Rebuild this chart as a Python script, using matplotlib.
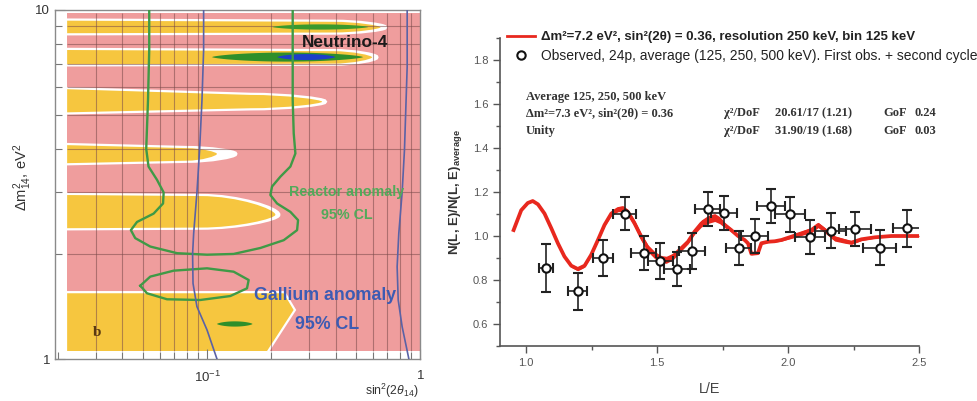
import numpy as np
import matplotlib
matplotlib.use("Agg")
import matplotlib.pyplot as plt
from matplotlib.path import Path
from matplotlib.patches import PathPatch, Polygon
from matplotlib.lines import Line2D
from matplotlib.ticker import FixedLocator, FixedFormatter, NullFormatter

plt.rcParams['font.family'] = ['Liberation Sans', 'DejaVu Sans']
plt.rcParams['mathtext.fontset'] = 'custom'
plt.rcParams['mathtext.rm'] = 'Liberation Sans'
plt.rcParams['mathtext.it'] = 'Liberation Sans:italic'
plt.rcParams['mathtext.bf'] = 'Liberation Sans:bold'

# ---------------- left panel data (sin^2(2theta), dm^2) ----------------
pink_x = (0.022, 1.0)
pink_y = (1.054, 9.78)

# yellow excluded lobes: left edge, top/bottom, taper start, tip
lobe_top = [9.32, 7.68, 5.93, 4.10, 2.95]
lobe_bot = [8.58, 6.99, 5.09, 3.64, 2.37]
lobe_top2 = [9.25, 7.62, 5.71, 4.02, 2.93]
lobe_bot2 = [8.62, 7.02, 5.23, 3.70, 2.38]
lobe_xflat = [0.39, 0.39, 0.159, 0.080, 0.093]
lobe_xtip = [0.649, 0.593, 0.3455, 0.111, 0.2086]
lobe_ytip = [8.92, 7.32, 5.46, 3.87, 2.59]
white_xtip = [0.68, 0.62, 0.355, 0.135, 0.215]

# bottom yellow region (polygon corners)
base_x = [0.022, 0.228, 0.254, 0.1906, 0.022]
base_y = [1.543, 1.543, 1.382, 1.054, 1.054]

# Neutrino-4 allowed islands: x range, centre dm^2, half height (decades)
n4_x1 = [0.105, 0.202, 0.213, 0.111]
n4_x2 = [0.539, 0.570, 0.399, 0.163]
n4_yc = [7.33, 8.94, 7.33, 1.26]
n4_hh = [0.013, 0.0075, 0.0085, 0.0075]
n4_col = ['#2f8f2a', '#3a9a2c', '#1d3fc8', '#2f8f2a']

# Reactor anomaly 95% CL contour
reactor_x = [0.0534, 0.0534, 0.0527, 0.0517, 0.0530, 0.0581, 0.0624, 0.0620, 0.0560, 0.0468,
             0.0438, 0.0459, 0.0540, 0.0721, 0.0997, 0.1329, 0.1773, 0.2283, 0.2637, 0.2665,
             0.2453, 0.2124, 0.1976, 0.2012, 0.2202, 0.2453, 0.2589, 0.2543, 0.2515, 0.2515, 0.2515]
reactor_y = [10.0, 7.68, 5.52, 4.00, 3.56, 3.26, 3.00, 2.79, 2.61, 2.47,
             2.34, 2.22, 2.10, 2.01, 1.99, 2.00, 2.08, 2.19, 2.34, 2.50,
             2.64, 2.79, 2.95, 3.12, 3.33, 3.56, 3.88, 4.43, 5.52, 7.68, 10.0]
loop_x = [0.0485, 0.0540, 0.0695, 0.0997, 0.1329, 0.1563, 0.1535, 0.1282, 0.0927, 0.0647, 0.0521, 0.0485]
loop_y = [1.622, 1.722, 1.791, 1.819, 1.779, 1.684, 1.594, 1.515, 1.476, 1.483, 1.543, 1.622]

# Gallium anomaly 95% CL lines
gal1_x = [0.0961, 0.0961, 0.0944, 0.0920, 0.0894, 0.0863, 0.0853, 0.0857, 0.0894, 0.0997, 0.1110]
gal1_y = [10.0, 7.68, 5.52, 3.97, 3.00, 2.29, 2.00, 1.647, 1.413, 1.211, 1.0]
gal2_x = [0.866, 0.866, 0.841, 0.820, 0.791, 0.777, 0.786, 0.820, 0.882]
gal2_y = [10.0, 6.88, 3.97, 3.00, 2.29, 1.838, 1.476, 1.238, 1.0]

grid_x = [0.02, 0.03, 0.04, 0.05, 0.06, 0.07, 0.08, 0.09, 0.2, 0.3, 0.4, 0.5, 0.6, 0.7, 0.8, 0.9]
grid_y = [2, 3, 4, 5, 6, 7, 8, 9]
left_xticks = [0.1, 1.0]
left_xlabels = [r'$10^{-1}$', '1']
left_yticks = [1, 10]
left_ylabels = ['1', '10']

# ---------------- right panel data ----------------
model_x = [0.952, 0.981, 1.006, 1.025, 1.045, 1.070, 1.096, 1.121, 1.146, 1.172,
           1.197, 1.223, 1.248, 1.274, 1.299, 1.325, 1.350, 1.369, 1.389, 1.414,
           1.439, 1.465, 1.490, 1.516, 1.535, 1.561, 1.592, 1.618, 1.643, 1.669,
           1.694, 1.720, 1.739, 1.758, 1.783, 1.809, 1.834, 1.847, 1.860, 1.885,
           1.898, 1.924, 1.949, 1.975, 2.013, 2.051, 2.089, 2.115, 2.140, 2.178,
           2.217, 2.242, 2.280, 2.331, 2.395, 2.459, 2.500]
model_y = [1.027, 1.117, 1.150, 1.159, 1.144, 1.102, 1.035, 0.967, 0.907, 0.865,
           0.850, 0.865, 0.914, 0.982, 1.050, 1.102, 1.122, 1.125, 1.107, 1.057,
           0.997, 0.944, 0.914, 0.895, 0.892, 0.907, 0.944, 0.974, 1.020, 1.057,
           1.075, 1.084, 1.072, 1.050, 1.027, 1.000, 0.982, 0.967, 0.919, 0.922,
           0.967, 0.974, 0.976, 0.982, 0.997, 1.012, 1.027, 1.050, 1.027, 0.989,
           0.977, 0.970, 0.985, 0.994, 1.000, 1.000, 1.000]
model_spread = [0.003, 0.003, 0.003, 0.003, 0.003, 0.003, 0.004, 0.005, 0.006, 0.007,
                0.008, 0.007, 0.006, 0.005, 0.006, 0.010, 0.012, 0.013, 0.014, 0.015,
                0.016, 0.016, 0.016, 0.016, 0.016, 0.015, 0.012, 0.010, 0.012, 0.016,
                0.018, 0.018, 0.016, 0.012, 0.008, 0.006, 0.005, 0.004, 0.004, 0.004,
                0.004, 0.004, 0.004, 0.005, 0.008, 0.010, 0.012, 0.012, 0.012, 0.012,
                0.010, 0.008, 0.006, 0.004, 0.003, 0.003, 0.003]

obs_x = [1.076, 1.197, 1.293, 1.376, 1.448, 1.512, 1.576, 1.633, 1.694, 1.754,
         1.811, 1.873, 1.936, 2.006, 2.085, 2.163, 2.255, 2.350, 2.456]
obs_y = [0.854, 0.749, 0.902, 1.102, 0.922, 0.887, 0.850, 0.932, 1.122, 1.105,
         0.944, 1.000, 1.135, 1.099, 0.997, 1.024, 1.030, 0.947, 1.035]
obs_yerr = [0.108, 0.085, 0.082, 0.075, 0.077, 0.081, 0.077, 0.083, 0.078, 0.079,
            0.078, 0.079, 0.077, 0.079, 0.077, 0.079, 0.077, 0.081, 0.083]
obs_xerr = [0.028, 0.036, 0.037, 0.043, 0.048, 0.048, 0.048, 0.048, 0.048, 0.050,
            0.049, 0.051, 0.053, 0.057, 0.057, 0.059, 0.060, 0.064, 0.054]

fit_rows = ['Average 125, 250, 500 keV', 'Δm²=7.3 eV², sin²(2θ) = 0.36', 'Unity']
fit_chi = ['', '20.61/17 (1.21)', '31.90/19 (1.68)']
fit_gof = ['', '0.24', '0.03']

PINK = '#ef9d9d'
YELLOW = '#f6c63f'
RED = '#e8281e'


def lerp_log(a, b, f):
    return a * (b / a) ** f


def lobe_path(x0, top, bot, xf, top2, bot2, xt, yt):
    cx = lerp_log(xf, xt, 0.5)
    verts = [(x0, top), (xf, top2),
             (cx, top2), (xt, lerp_log(yt, top2, 0.3)), (xt, yt),
             (xt, lerp_log(yt, bot2, 0.3)), (cx, bot2), (xf, bot2),
             (x0, bot), (x0, top)]
    codes = [Path.MOVETO, Path.LINETO, Path.CURVE4, Path.CURVE4, Path.CURVE4,
             Path.CURVE4, Path.CURVE4, Path.CURVE4, Path.LINETO, Path.CLOSEPOLY]
    return Path(verts, codes)


def lens(x1, x2, yc, hh, n=80):
    t = np.linspace(-1, 1, n)
    lx = np.log10(x1) + (t + 1) / 2 * (np.log10(x2) - np.log10(x1))
    h = hh * (1 - t ** 2) ** 0.7
    xs = np.concatenate([lx, lx[::-1]])
    ys = np.concatenate([np.log10(yc) + h, (np.log10(yc) - h)[::-1]])
    return 10 ** xs, 10 ** ys


fig = plt.figure(figsize=(9.78, 4.01), dpi=100)

# ================= left panel =================
ax1 = fig.add_axes([55 / 978, 42 / 401, 365.5 / 978, 349 / 401])
ax1.set_xscale('log')
ax1.set_yscale('log')
ax1.set_xlim(0.0193, 1.0)
ax1.set_ylim(1, 10)

ax1.add_patch(Polygon([(pink_x[0], pink_y[0]), (pink_x[1], pink_y[0]),
                       (pink_x[1], pink_y[1]), (pink_x[0], pink_y[1])],
                      closed=True, fc=PINK, ec='none', zorder=1))

for i in range(len(lobe_top)):
    halo = lobe_path(pink_x[0], lobe_top[i], lobe_bot[i], lobe_xflat[i], lobe_top2[i],
                     lobe_bot2[i], white_xtip[i], lobe_ytip[i])
    ax1.add_patch(PathPatch(halo, fc='white', ec='white', lw=3.2, zorder=1.2))
for i in range(len(lobe_top)):
    yel = lobe_path(pink_x[0], lobe_top[i], lobe_bot[i], lobe_xflat[i], lobe_top2[i],
                    lobe_bot2[i], lobe_xtip[i], lobe_ytip[i])
    ax1.add_patch(PathPatch(yel, fc=YELLOW, ec='none', zorder=1.4))

base = list(zip(base_x, base_y))
ax1.add_patch(Polygon(base, closed=True, fc='white', ec='white', lw=3.2, zorder=1.2))
ax1.add_patch(Polygon(base, closed=True, fc=YELLOW, ec='none', zorder=1.4))
# white margin under the coloured area
ax1.add_patch(Polygon([(0.0193, 1.0), (1.0, 1.0), (1.0, pink_y[0]), (0.0193, pink_y[0])],
                      closed=True, fc='white', ec='none', zorder=1.5))

ax1.vlines(grid_x[1:], pink_y[0], pink_y[1], colors='#7a4a4a', lw=0.8, alpha=0.55, zorder=1.6)
ax1.hlines(grid_y, pink_x[0], pink_x[1], colors='#7a4a4a', lw=0.8, alpha=0.55, zorder=1.6)

for x1, x2, yc, hh, c in zip(n4_x1, n4_x2, n4_yc, n4_hh, n4_col):
    lx, ly = lens(x1, x2, yc, hh)
    ax1.fill(lx, ly, color=c, lw=0, zorder=2)

ax1.plot(reactor_x, reactor_y, color='#3f9a46', lw=1.7, zorder=3, solid_joinstyle='round')
ax1.plot(loop_x, loop_y, color='#3f9a46', lw=1.7, zorder=3, solid_joinstyle='round')
ax1.plot(gal1_x, gal1_y, color='#5a62a6', lw=1.2, zorder=3)
ax1.plot(gal2_x, gal2_y, color='#5a62a6', lw=1.2, zorder=3)

ax1.text(0.793, 0.908, 'Neutrino-4', transform=ax1.transAxes, ha='center', va='center',
         fontsize=12.4, fontweight='bold', color='#1a1a1a', zorder=4)
ax1.text(0.798, 0.478, 'Reactor anomaly', transform=ax1.transAxes, ha='center', va='center',
         fontsize=10.3, fontweight='bold', color='#52aa5a', zorder=4)
ax1.text(0.798, 0.413, '95% CL', transform=ax1.transAxes, ha='center', va='center',
         fontsize=10.3, fontweight='bold', color='#52aa5a', zorder=4)
ax1.text(0.739, 0.183, 'Gallium anomaly', transform=ax1.transAxes, ha='center', va='center',
         fontsize=12.8, fontweight='bold', color='#3d5bb3', zorder=4)
ax1.text(0.745, 0.100, '95% CL', transform=ax1.transAxes, ha='center', va='center',
         fontsize=12.8, fontweight='bold', color='#3d5bb3', zorder=4)
ax1.text(0.115, 0.077, 'b', transform=ax1.transAxes, ha='center', va='center',
         fontsize=11, fontweight='bold', family='Liberation Serif', color='#5a3a10', zorder=4)

ax1.xaxis.set_major_locator(FixedLocator(left_xticks))
ax1.xaxis.set_major_formatter(FixedFormatter(left_xlabels))
ax1.xaxis.set_minor_locator(FixedLocator(grid_x))
ax1.xaxis.set_minor_formatter(NullFormatter())
ax1.yaxis.set_major_locator(FixedLocator(left_yticks))
ax1.yaxis.set_major_formatter(FixedFormatter(left_ylabels))
ax1.yaxis.set_minor_locator(FixedLocator(grid_y))
ax1.yaxis.set_minor_formatter(NullFormatter())
ax1.tick_params(which='both', direction='in', color='#777777', labelcolor='#333333',
                labelsize=9.5, width=0.8)
ax1.tick_params(which='major', length=7)
ax1.tick_params(which='minor', length=5)
ax1.tick_params(axis='x', pad=8)
for sp in ax1.spines.values():
    sp.set_color('#8a8a8a')
    sp.set_linewidth(1.0)
ax1.set_ylabel(r'$\Delta \mathrm{m}^2_{14}$, eV$^2$', fontsize=10.5, color='#333333')
ax1.yaxis.set_label_coords(-0.058, 0.52)
ax1.text(0.995, -0.09, r'sin$^2$(2$\theta_{14}$)', transform=ax1.transAxes, ha='right',
         va='center', fontsize=8.8, color='#333333')

# ================= right panel =================
ax2 = fig.add_axes([500 / 978, 55 / 401, 419 / 978, 308 / 401])
ax2.set_xlim(0.9, 2.5)
ax2.set_ylim(0.5, 1.9)

mx = np.array(model_x)
my = np.array(model_y)
ms = np.array(model_spread)
ax2.fill_between(mx, my - ms, my + ms, color=RED, lw=0, zorder=2)
ax2.plot(mx, my, color=RED, lw=2.7, zorder=2)

ax2.errorbar(obs_x, obs_y, xerr=obs_xerr, yerr=obs_yerr, fmt='o', ms=6, mfc='white',
             mec='#111111', mew=1.5, ecolor='#222222', elinewidth=1.2, capsize=3.5,
             capthick=1.2, zorder=3)

for sp in ['top', 'right']:
    ax2.spines[sp].set_visible(False)
for sp in ['left', 'bottom']:
    ax2.spines[sp].set_color('#555555')
    ax2.spines[sp].set_linewidth(1.2)
ax2.set_xticks([1.0, 1.5, 2.0, 2.5])
ax2.set_xticks([1.25, 1.75, 2.25], minor=True)
ax2.set_yticks([0.6, 0.8, 1.0, 1.2, 1.4, 1.6, 1.8])
ax2.set_yticks([0.5, 0.7, 0.9, 1.1, 1.3, 1.5, 1.7, 1.9], minor=True)
ax2.tick_params(which='both', direction='out', color='#555555', labelcolor='#555555',
                labelsize=8, width=1.0)
ax2.tick_params(which='major', length=5)
ax2.tick_params(which='minor', length=3)
ax2.set_xlabel('L/E', fontsize=10.4, color='#444444', labelpad=10)
ax2.set_ylabel('N(L, E)/N(L, E)' + r'$_{\mathbf{average}}$', fontsize=9.5,
               fontweight='bold', color='#333333', labelpad=6)

handles = [Line2D([], [], color=RED, lw=2),
           Line2D([], [], ls='none', marker='o', ms=6, mfc='white', mec='#111111', mew=1.5)]
labels = ['Δm²=7.2 eV², sin²(2θ) = 0.36, resolution 250 keV, bin 125 keV',
          'Observed, 24p, average (125, 250, 500 keV). First obs. + second cycle']
leg = fig.legend(handles, labels, loc='upper left', bbox_to_anchor=(507 / 978, 1 - 31 / 401),
                 frameon=False, fontsize=9.5, handlelength=2.1, handletextpad=0.5,
                 borderpad=0, borderaxespad=0, labelspacing=0.4)
leg.get_texts()[0].set_fontweight('bold')
leg.get_texts()[1].set_fontsize(10)
for t in leg.get_texts():
    t.set_color('#222222')

row_y = [0.808, 0.756, 0.698]
for i in range(3):
    kw = dict(transform=ax2.transAxes, va='center', ha='left', fontsize=9,
              family='Liberation Serif', fontweight='bold', color='#333333')
    ax2.text(0.062, row_y[i], fit_rows[i], **kw)
    if fit_chi[i]:
        ax2.text(0.535, row_y[i], 'χ²/DoF', **kw)
        ax2.text(0.656, row_y[i], fit_chi[i], **kw)
        ax2.text(0.914, row_y[i], 'GoF', **kw)
        ax2.text(0.990, row_y[i], fit_gof[i], **kw)

fig.savefig('out.png', dpi=100)
